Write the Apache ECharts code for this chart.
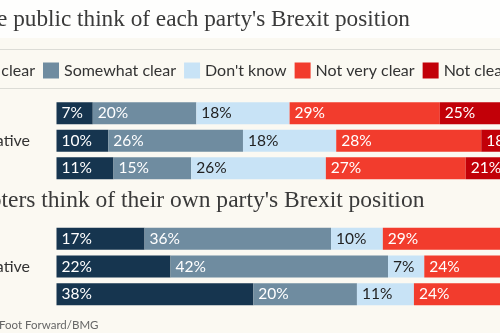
<!DOCTYPE html>
<html><head><meta charset="utf-8">
<script src="https://cdn.jsdelivr.net/npm/echarts@6/dist/echarts.min.js"></script>
<style>html,body{margin:0;padding:0;background:#fbf9f2;overflow:hidden;width:500px;height:333px}#c{position:absolute;left:-120px;top:0;width:720px;height:333px}</style>
</head><body><div id="c"></div>
<script>
const categories = ['Labour', 'Conservative', 'Lib Dem'];
const legendNames = ['Very clear', 'Somewhat clear', "Don't know", 'Not very clear', 'Not clear at all'];
const title1 = "What do the public think of each party's Brexit position";
const title2 = "What do voters think of their own party's Brexit position";
const sourceText = 'Source: Left Foot Forward/BMG';

// Panel 1: the public
const publicVeryClear = [7, 10, 11];
const publicSomewhatClear = [20, 26, 15];
const publicDontKnow = [18, 18, 26];
const publicNotVeryClear = [29, 28, 27];
const publicNotClear = [25, 18, 21];

// Panel 2: own voters
const votersVeryClear = [17, 22, 38];
const votersSomewhatClear = [36, 42, 20];
const votersDontKnow = [10, 7, 11];
const votersNotVeryClear = [29, 24, 24];
const votersNotClear = [8, 5, 7];

const colors = ['#16354f', '#6f8ca0', '#c8e3f6', '#f23c2d', '#c20008'];
const labelColors = ['#fff', '#fff', '#222', '#fff', '#fff'];

const OX = 120;          // page is a window onto a wider chart
const W = 720;
const mctx = document.createElement('canvas').getContext('2d');
function tw(s, font) { mctx.font = font; return mctx.measureText(s).width; }

const sans = 'Lato';
const serifFamily = '"Liberation Serif"';
const serifSize1 = 20 * 413 / tw("e public think of each party's Brexit position", '20px ' + serifFamily);
const serifSize2 = 20 * 423 / tw("ters think of their own party's Brexit position", '20px ' + serifFamily);
const serifFont1 = serifSize1.toFixed(2) + 'px ' + serifFamily;
const serifFont2 = serifSize2.toFixed(2) + 'px ' + serifFamily;
const srcFont = '11.5px ' + sans;
const gridLeft = OX + 56.5;
const gridRight = W - (OX + 574.5);

const t1x = OX - 3 - tw('What do th', serifFont1);
const t2x = OX + 1.5 - tw('What do vo', serifFont2);
const srcX = OX - 1 - tw('Source: Left ', srcFont);
const rowLabelStart = OX + 30 - tw('Conservative', '16px ' + sans);
const legendLeft = OX + 43 - (16 + 5 + tw('Very clear', '16px ' + sans) + 8) - 5;

const panel1 = [publicVeryClear, publicSomewhatClear, publicDontKnow, publicNotVeryClear, publicNotClear];
const panel2 = [votersVeryClear, votersSomewhatClear, votersDontKnow, votersNotVeryClear, votersNotClear];

const series = [];
[panel1, panel2].forEach((panel, pi) => {
  panel.forEach((vals, si) => {
    series.push({
      type: 'bar', name: legendNames[si], stack: 'p' + pi,
      xAxisIndex: pi, yAxisIndex: pi, data: vals, barWidth: 22,
      itemStyle: { color: colors[si] },
      label: { show: true, position: 'insideLeft', distance: 5, formatter: '{c}%',
        color: labelColors[si], fontFamily: sans, fontSize: 15.5 },
      emphasis: { disabled: true }, animation: false
    });
  });
});

const yAxisBase = (gi) => ({
  type: 'category', gridIndex: gi, data: categories, inverse: true,
  axisLine: { show: false }, axisTick: { show: false }, splitLine: { show: false },
  axisLabel: { align: 'left', margin: gridLeft - rowLabelStart, fontFamily: sans, fontSize: 16, color: '#333' }
});
const xAxisBase = (gi) => ({ type: 'value', gridIndex: gi, min: 0, max: 100, show: false });

const chart = echarts.init(document.getElementById('c'), null, { renderer: 'canvas' });
chart.setOption({
  backgroundColor: '#fbf9f2',
  animation: false,
  legend: {
    data: legendNames, left: legendLeft, top: 57.5, width: 700, itemWidth: 16, itemHeight: 16, itemGap: 8,
    icon: 'rect', selectedMode: false,
    textStyle: { fontFamily: sans, fontSize: 16, color: '#333', lineHeight: 16 }
  },
  grid: [
    { left: gridLeft, right: gridRight, top: 99.5, height: 82.5, outerBoundsMode: 'none' },
    { left: gridLeft, right: gridRight, top: 225, height: 83, outerBoundsMode: 'none' }
  ],
  xAxis: [xAxisBase(0), xAxisBase(1)],
  yAxis: [yAxisBase(0), yAxisBase(1)],
  graphic: [
    { type: 'rect', shape: { x: 0, y: 0, width: W, height: 38 }, style: { fill: '#fefefd' }, z: -10, silent: true },
    { type: 'line', shape: { x1: 0, y1: 49.5, x2: W, y2: 49.5 }, style: { stroke: '#dcdcd6', lineWidth: 1 }, silent: true },
    { type: 'line', shape: { x1: 0, y1: 88.5, x2: W, y2: 88.5 }, style: { stroke: '#dcdcd6', lineWidth: 1 }, silent: true },
    { type: 'text', x: t1x, y: 20, style: { text: title1, font: serifFont1, fill: '#3a3a3a', verticalAlign: 'middle' }, silent: true },
    { type: 'text', x: t2x, y: 201, style: { text: title2, font: serifFont2, fill: '#3a3a3a', verticalAlign: 'middle' }, silent: true },
    { type: 'text', x: srcX, y: 325, style: { text: sourceText, font: srcFont, fill: '#666', verticalAlign: 'middle' }, silent: true }
  ],
  series: series
});
</script></body></html>
